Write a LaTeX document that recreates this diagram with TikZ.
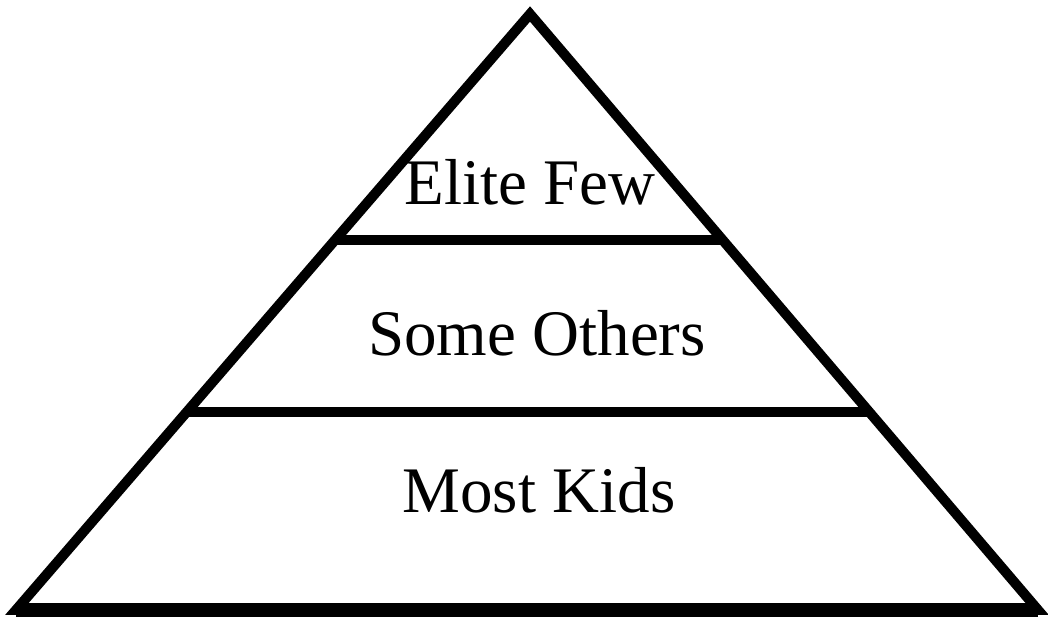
\documentclass[tikz,border=0pt]{standalone}
\usepackage{fontspec}
\setmainfont{Liberation Serif}
\usetikzlibrary{calc}
\begin{document}
\begin{tikzpicture}[x=1pt,y=1pt,
  edge/.style={line width=10pt,line join=miter,miter limit=20},
  tier/.style={line width=10pt},
  lbl/.style={font=\fontsize{65}{70}\selectfont,inner sep=0pt,anchor=base}]
\useasboundingbox (0,0) rectangle (1048,620);
\fill[white] (0,0) rectangle (1048,620);
\coordinate (apex) at (530,606);
\coordinate (bl) at (16,10);
\coordinate (br) at (1038,10);
\draw[edge] (bl) -- (apex) -- (br) -- cycle;
\draw[line width=14pt] (bl) -- (br);
\coordinate (l1) at ($(apex)!0.379!(bl)$);
\coordinate (r1) at ($(apex)!0.379!(br)$);
\coordinate (l2) at ($(apex)!0.667!(bl)$);
\coordinate (r2) at ($(apex)!0.667!(br)$);
\draw[tier] (l1) -- (r1);
\draw[tier] (l2) -- (r2);
\node[lbl] (elite) at (530,415) {Elite Few};
\node[lbl] (some) at (537,264) {Some Others};
\node[lbl] (most) at (539,107) {Most Kids};
\end{tikzpicture}
\end{document}
